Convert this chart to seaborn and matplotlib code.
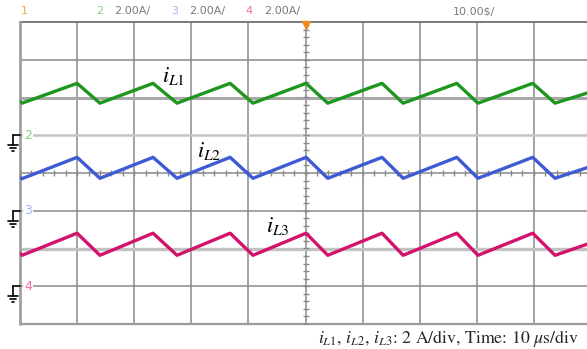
import numpy as np
import pandas as pd
import matplotlib
matplotlib.use("Agg")
import matplotlib.pyplot as plt
import seaborn as sns
from matplotlib.lines import Line2D

# Trace vertices: time (µs) and inductor currents (A)
t_us = [0.0, 0.35, 10.0, 14.0, 23.3, 27.5, 36.8, 40.8, 50.1, 53.9,
        63.4, 67.1, 76.5, 80.2, 89.8, 93.7, 100.0]
i_L1 = [1.80, 1.70, 2.75, 1.70, 2.75, 1.70, 2.75, 1.70, 2.75, 1.70,
        2.75, 1.70, 2.75, 1.70, 2.75, 1.70, 2.30]
i_L2 = [1.75, 1.70, 2.83, 1.72, 2.83, 1.72, 2.83, 1.72, 2.83, 1.72,
        2.83, 1.72, 2.83, 1.72, 2.83, 1.72, 2.35]
i_L3 = [1.75, 1.64, 2.81, 1.64, 2.81, 1.64, 2.81, 1.64, 2.81, 1.64,
        2.81, 1.64, 2.81, 1.64, 2.81, 1.64, 2.30]

channels = ["2", "3", "4"]
ground_div = [1.0, -1.0, -3.0]        # ground level of each channel (div)
amps_per_div = 2.0
trace_colors = ["#1f961f", "#3f5bd4", "#d2136c"]
label_colors = ["#7fd37f", "#a3b2f5", "#f46aa8"]

W, H = 587, 349
sns.set_style("white")
plt.rcParams["mathtext.fontset"] = "stix"
fig = plt.figure(figsize=(W / 100, H / 100), dpi=100)

def fx(px):
    return px / W

def fy(py):
    return 1 - py / H

# Graticule spans 10 x 8 divisions; right edge runs past the figure
x0, x1, y0, y1 = 20, 591, 22, 324
ax = fig.add_axes([fx(x0), fy(y1), (x1 - x0) / W, (y1 - y0) / H])

grid_dark = "#8a8a8a"
for k in range(1, 10):
    ax.axvline(k * 10, color=grid_dark, lw=1.1, zorder=1)
for k in [-3, -1, 0, 3]:
    ax.axhline(k, color=grid_dark, lw=1.1, zorder=1)
ax.axhline(1, color="#c4c4c4", lw=1.8, zorder=1)
ax.axhline(2, color="#a8a8a8", lw=2.2, zorder=1)
ax.axhline(-2, color="#c2c2c2", lw=2.4, zorder=1)
ax.axhline(4, color="#7a7a7a", lw=1.4, zorder=1, clip_on=False)
ax.axhline(-4, color="#9a9a9a", lw=1.6, zorder=1, clip_on=False)
ax.axvline(0, color="#a0a0a0", lw=2.0, zorder=1, clip_on=False)

# minor ticks on the centre cross
ax.plot(np.full(41, 50.0), np.arange(-4, 4.01, 0.2), ls="none", marker="_",
        ms=4.5, mew=1.0, color=grid_dark, zorder=1)
ax.plot(np.arange(0, 100.01, 2.0), np.zeros(51), ls="none", marker="|",
        ms=4.5, mew=1.0, color=grid_dark, zorder=1)

# Build the long table of traces in screen divisions
frames = []
for ch, cur, g in zip(channels, [i_L1, i_L2, i_L3], ground_div):
    frames.append(pd.DataFrame({
        "t": t_us,
        "div": g + np.asarray(cur) / amps_per_div,
        "ch": ch,
    }))
df = pd.concat(frames, ignore_index=True)

sns.lineplot(data=df, x="t", y="div", hue="ch", estimator=None, sort=False,
             palette=dict(zip(channels, trace_colors)), lw=2.4,
             legend=False, ax=ax, zorder=3)
ax.set_xlim(0, 100)
ax.set_ylim(-4, 4)
ax.set_axis_off()

# trigger position marker
ax.plot([50], [3.93], marker="v", ms=6, color="#f08c1e", clip_on=False, zorder=4)

# channel ground markers
for ch, g, lc in zip(channels, ground_div, label_colors):
    ax.text(0.7, g, ch, color=lc, fontsize=9, va="center", ha="left",
            bbox=dict(facecolor="white", edgecolor="none", pad=0.6), zorder=2)
    yp = y0 + (4 - g) * (y1 - y0) / 8
    segs = [((13, yp), (20, yp)), ((13, yp), (13, yp + 10)),
            ((8, yp + 10), (18, yp + 10)), ((10, yp + 13), (16, yp + 13)),
            ((12, yp + 16), (14, yp + 16))]
    for (a, b), (c, d) in segs:
        fig.add_artist(Line2D([fx(a), fx(c)], [fy(b), fy(d)], color="black",
                              lw=1.2, transform=fig.transFigure))

# header line of the scope
hdr = dict(fontsize=8, va="center", ha="left", family="DejaVu Sans")
fig.text(fx(21), fy(11), "1", color="#f5a64a", **hdr)
fig.text(fx(96), fy(11), "2", color="#7fd37f", **hdr)
fig.text(fx(114), fy(11), "2.00A/", color="#7a7a7a", **hdr)
fig.text(fx(171), fy(11), "3", color="#a3b2f5", **hdr)
fig.text(fx(189), fy(11), "2.00A/", color="#7a7a7a", **hdr)
fig.text(fx(245), fy(11), "4", color="#f46aa8", **hdr)
fig.text(fx(264), fy(11), "2.00A/", color="#7a7a7a", **hdr)
fig.text(fx(453), fy(11), r"10.00\$/", color="#7a7a7a", **hdr)

# trace names and caption
lab = dict(fontsize=16, color="black", family="STIXGeneral", va="baseline", ha="left")
fig.text(fx(162), fy(82), r"$i_{L1}$", **lab)
fig.text(fx(197), fy(157), r"$i_{L2}$", **lab)
fig.text(fx(266), fy(232), r"$i_{L3}$", **lab)
fig.text(fx(579), fy(343),
         r"$i_{L1}$, $i_{L2}$, $i_{L3}$: 2 A/div, Time: 10 $\mu$s/div",
         fontsize=12.8, family="STIXGeneral", ha="right", va="baseline")

fig.savefig("out.png", dpi=100)
